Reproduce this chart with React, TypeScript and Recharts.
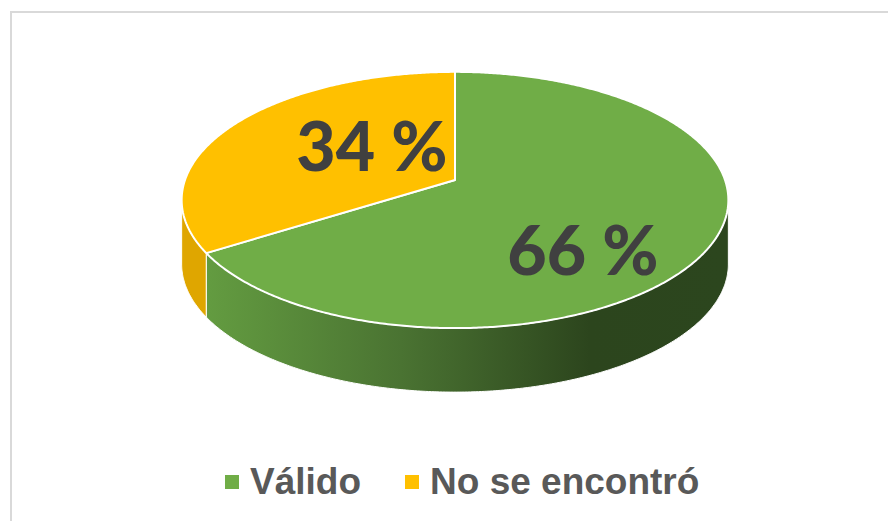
import React from "react";
import { PieChart, Pie, Cell, Legend } from "recharts";

const categories = ["Válido", "No se encontró"];
const values = [66, 34];
const topColors = ["#70ad47", "#ffc000"];

const data = categories.map((name, i) => ({ name, value: values[i] }));

const K = 0.156; // perspective factor
const RY_RATIO = 0.463;
const DEPTH = 64;

function proj(cx: number, cy: number, R: number, deg: number, r = 1) {
  const t = (deg * Math.PI) / 180;
  const u = r * Math.cos(t);
  const v = r * Math.sin(t);
  const w = 1 + K * v;
  return [cx + (R * u) / w, cy - (R * RY_RATIO * v) / w];
}

function arcPoints(cx: number, cy: number, R: number, a: number, b: number) {
  const pts: number[][] = [];
  const n = Math.max(2, Math.ceil(Math.abs(b - a) / 0.5));
  for (let i = 0; i <= n; i++) {
    pts.push(proj(cx, cy, R, a + ((b - a) * i) / n));
  }
  return pts;
}

const front = 180 + (Math.asin(K) * 180) / Math.PI;
const frontEnd = 360 - (Math.asin(K) * 180) / Math.PI;

function SliceShape(props: any) {
  const { cx, cy, outerRadius, startAngle, endAngle, index } = props;
  const R = outerRadius;
  const lo = Math.min(startAngle, endAngle);
  const hi = Math.max(startAngle, endAngle);
  const sides: React.ReactNode[] = [];
  const gid = "sideGrad" + index;
  for (let k = -2; k <= 1; k++) {
    const fa = front + 360 * k;
    const fb = frontEnd + 360 * k;
    const a = Math.max(lo, fa);
    const b = Math.min(hi, fb);
    if (b > a) {
      const top = arcPoints(cx, cy, R, a, b);
      const bottom = top.slice().reverse().map((p) => [p[0], p[1] + DEPTH]);
      const d =
        "M" +
        top.concat(bottom).map((p) => p[0].toFixed(2) + "," + p[1].toFixed(2)).join("L") +
        "Z";
      sides.push(
        <path
          key={k}
          d={d}
          fill={index === 0 ? `url(#${gid})` : "#dfa600"}
          stroke="#ffffff"
          strokeWidth={1}
          strokeLinejoin="round"
        />
      );
    }
  }
  const topPts = arcPoints(cx, cy, R, startAngle, endAngle);
  const dTop =
    `M${cx},${cy}L` +
    topPts.map((p) => p[0].toFixed(2) + "," + p[1].toFixed(2)).join("L") +
    "Z";
  return (
    <g>
      <defs>
        <linearGradient id={gid} gradientUnits="userSpaceOnUse" x1={cx - R} y1={0} x2={cx + R} y2={0}>
          <stop offset="0" stopColor="#66a042" />
          <stop offset="0.1" stopColor="#5f953e" />
          <stop offset="0.4" stopColor="#4a7332" />
          <stop offset="0.75" stopColor="#2c451d" />
          <stop offset="1" stopColor="#2c461e" />
        </linearGradient>
      </defs>
      {sides}
      <path d={dTop} fill={topColors[index]} stroke="#ffffff" strokeWidth={2} strokeLinejoin="round" />
    </g>
  );
}

function renderLabel(props: any) {
  const { cx, cy, midAngle, outerRadius, value } = props;
  const R = outerRadius;
  const t = (midAngle * Math.PI) / 180;
  const lx = cx + 0.083 * R + 0.446 * R * Math.cos(t);
  const ly = cy + 18 - 0.4 * R * Math.sin(t);
  return (
    <text
      x={lx}
      y={ly + 25}
      textAnchor="middle"
      fontFamily="Lato, 'Open Sans', sans-serif"
      fontWeight={900}
      fontSize={68}
      fill="#404040"
    >
      {`${value} %`}
    </text>
  );
}

function LegendContent(props: any) {
  const payload = (props.payload || [])
    .slice()
    .sort((a: any, b: any) => categories.indexOf(a.value) - categories.indexOf(b.value));
  return (
    <div style={{ display: "flex", alignItems: "center", height: 40 }}>
      {payload.map((p: any, i: number) => (
        <div key={i} style={{ display: "flex", alignItems: "center", marginRight: i === 0 ? 44 : 0 }}>
          <div style={{ width: 14, height: 14, background: p.color, marginRight: 11 }} />
          <span
            style={{
              fontFamily: "'Liberation Sans', Arial, sans-serif",
              fontWeight: "bold",
              fontSize: 37,
              lineHeight: "40px",
              color: "#595959",
              whiteSpace: "nowrap",
            }}
          >
            {p.value}
          </span>
        </div>
      ))}
    </div>
  );
}

export default function App() {
  return (
    <div
      style={{
        position: "fixed",
        left: 0,
        top: 0,
        width: 888,
        height: 521,
        overflow: "hidden",
        background: "#ffffff",
      }}
    >
      <div
        style={{
          position: "absolute",
          left: 10,
          top: 11,
          width: 900,
          height: 560,
          border: "2px solid #d9d9d9",
          boxSizing: "border-box",
        }}
      />
      <div style={{ position: "absolute", left: 0, top: 0 }}>
        <PieChart width={888} height={521} margin={{ top: 0, right: 0, bottom: 0, left: 0 }}>
          <Pie
            data={data}
            dataKey="value"
            nameKey="name"
            cx={455}
            cy={180}
            outerRadius={270}
            startAngle={90}
            endAngle={-270}
            stroke="none"
            isAnimationActive={false}
            labelLine={false}
            label={renderLabel}
            shape={SliceShape}
          >
            {data.map((d, i) => (
              <Cell key={d.name} fill={topColors[i]} />
            ))}
          </Pie>
          <Legend
            verticalAlign="bottom"
            content={LegendContent}
            wrapperStyle={{ position: "absolute", left: 225, top: 462, width: 620, bottom: "auto" }}
          />
        </PieChart>
      </div>
    </div>
  );
}
